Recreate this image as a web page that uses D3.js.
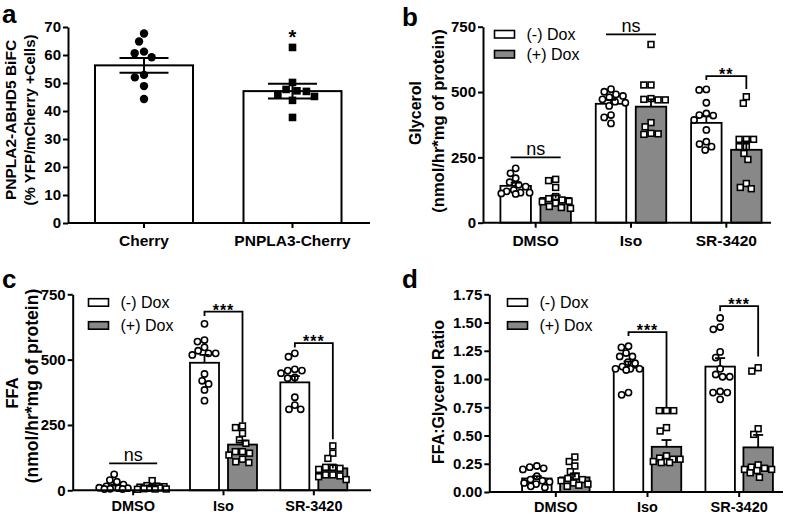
<!DOCTYPE html>
<html>
<head>
<meta charset="utf-8">
<script src="https://cdn.jsdelivr.net/npm/d3@7"></script>
<style>
  body { margin: 0; background: #fff; }
  svg text { font-family: "Liberation Sans", Arial, Helvetica, sans-serif; fill: #000; }
</style>
</head>
<body>
<div id="chart"></div>
<script>
// ---- panel a data: BiFC %
var aCats = ["Cherry", "PNPLA3-Cherry"];
var aMean = [56.3, 47.1];
var aSem = [2.6, 2.6];
var aPts = [
  [67.7, 64.8, 61.2, 60.6, 59.2, 52.9, 52.0, 48.9, 44.3],
  [62.7, 50.2, 47.0, 46.0, 45.2, 47.2, 43.8, 47.7, 37.7]
];
var aTicks = [0, 10, 20, 30, 40, 50, 60, 70];
var aStar = 64; // "*" over PNPLA3-Cherry

// ---- shared groups for b, c, d
var groups = ["DMSO", "Iso", "SR-3420"];
var series = ["(-) Dox", "(+) Dox"];

// ---- panel b: glycerol
var glyMinusMean = [141, 455, 382];
var glyMinusSem = [12, 15, 25];
var glyPlusMean = [95, 444, 279];
var glyPlusSem = [10, 28, 32];
var glyMinusPts = [
  [208, 189, 170, 155, 145, 138, 125, 120, 115, 112, 115, 110],
  [501, 491, 511, 485, 472, 459, 447, 463, 412, 403, 380, 480],
  [510, 508, 459, 418, 412, 410, 393, 355, 310, 301, 291, 278]
];
var glyPlusPts = [
  [166, 161, 135, 100, 92, 87, 82, 80, 75, 62, 58, 55],
  [682, 527, 527, 475, 472, 470, 470, 383, 367, 342, 340, 338],
  [482, 457, 319, 319, 319, 291, 291, 265, 242, 150, 135, 130]
];
var glyTicks = [0, 250, 500, 750];
var glyNotes = [
  {group: 0, kind: "ns", at: 250},
  {group: 1, kind: "ns", at: 721},
  {group: 2, kind: "bracket", top: 561, left: 546, right: 512, label: "**"}
];

// ---- panel c: FFA
var ffaMinusMean = [15, 488, 413];
var ffaMinusSem = [5, 30, 24];
var ffaPlusMean = [12, 175, 84];
var ffaPlusSem = [3, 15, 12];
var ffaMinusPts = [
  [61, 39, 33, 22, 15, 12, 10, 8, 8, 6, 5, 5],
  [637, 569, 575, 547, 534, 518, 524, 524, 445, 419, 407, 384, 343],
  [524, 511, 463, 458, 458, 448, 432, 429, 356, 326, 310, 310]
];
var ffaPlusPts = [
  [37, 18, 16, 14, 12, 10, 9, 8, 6, 5, 5, 4],
  [246, 240, 218, 193, 180, 148, 142, 148, 135, 119, 109, 106],
  [170, 142, 122, 88, 84, 88, 80, 59, 55, 59, 52, 41]
];
var ffaTicks = [0, 250, 500, 750];
var ffaNotes = [
  {group: 0, kind: "ns", at: 103},
  {group: 1, kind: "bracket", top: 684, left: 667, right: 259, label: "***"},
  {group: 2, kind: "bracket", top: 563, left: 546, right: 195, label: "***"}
];

// ---- panel d: FFA:glycerol ratio
var ratMinusMean = [0.12, 1.10, 1.11];
var ratMinusSem = [0.02, 0.055, 0.075];
var ratPlusMean = [0.13, 0.40, 0.395];
var ratPlusSem = [0.035, 0.06, 0.11];
var ratMinusPts = [
  [0.23, 0.21, 0.20, 0.22, 0.14, 0.11, 0.10, 0.09, 0.08, 0.07, 0.05, 0.04],
  [1.29, 1.28, 1.23, 1.20, 1.20, 1.15, 1.14, 1.09, 1.09, 1.09, 1.11, 1.08, 0.88, 0.86],
  [1.54, 1.44, 1.46, 1.24, 1.19, 1.09, 1.02, 1.02, 1.04, 0.89, 0.88, 0.88, 0.82]
];
var ratPlusPts = [
  [0.31, 0.27, 0.23, 0.18, 0.14, 0.12, 0.11, 0.10, 0.08, 0.07, 0.06, 0.05],
  [0.72, 0.72, 0.72, 0.57, 0.54, 0.29, 0.30, 0.32, 0.29, 0.27, 0.27, 0.26, 0.26],
  [1.10, 1.07, 0.56, 0.51, 0.24, 0.21, 0.22, 0.20, 0.19, 0.20, 0.17, 0.13]
];
var ratTicks = [0, 0.25, 0.5, 0.75, 1.0, 1.25, 1.5, 1.75];
var ratNotes = [
  {group: 1, kind: "bracket", top: 1.416, left: 1.38, right: 0.746, label: "***"},
  {group: 2, kind: "bracket", top: 1.646, left: 1.60, right: 1.20, label: "***"}
];

var GRAY = "#888888";

var svg = d3.select("#chart").append("svg")
  .attr("width", 800)
  .attr("height", 516);
svg.append("rect").attr("width", 800).attr("height", 516).attr("fill", "#fff");

// simple beeswarm: place points (highest first) near the centre,
// letting them overlap when the spread would get wider than maxHalf
function swarm(values, y, cx, d, maxHalf) {
  var order = d3.range(values.length).sort(function(i, j) { return d3.descending(values[i], values[j]); });
  var placed = [];
  var xs = new Array(values.length);
  order.forEach(function(i) {
    var py = y(values[i]);
    var px = null;
    [1, 0.8, 0.6, 0.45, 0.3, 0].some(function(f) {
      var dd = d * f;
      var blocks = [];
      placed.forEach(function(p) {
        var dy = Math.abs(p.y - py);
        if (dy < dd) {
          var dx = Math.sqrt(dd * dd - dy * dy);
          blocks.push([p.x - dx, p.x + dx]);
        }
      });
      var cands = [cx];
      blocks.forEach(function(b) { cands.push(b[0], b[1]); });
      cands.sort(function(a, b) { return Math.abs(a - cx) - Math.abs(b - cx); });
      var c = cands.find(function(c) {
        return Math.abs(c - cx) <= maxHalf &&
          blocks.every(function(b) { return c <= b[0] + 1e-6 || c >= b[1] - 1e-6; });
      });
      if (c !== undefined) { px = c; return true; }
      return false;
    });
    if (px === null) px = cx;
    xs[i] = px;
    placed.push({x: px, y: py});
  });
  return xs;
}

function yAxis(g, y, ticks, fmt, x) {
  var ax = g.append("g")
    .attr("transform", "translate(" + x + ",0)")
    .call(d3.axisLeft(y).tickValues(ticks).tickFormat(fmt).tickSize(5).tickPadding(2).tickSizeOuter(0));
  ax.select(".domain").attr("stroke-width", 2);
  ax.selectAll(".tick line").attr("stroke-width", 2);
  ax.selectAll(".tick text")
    .style("font-size", "15px").style("font-weight", "bold");
  return ax;
}

function xAxis(g, x, y0, x0, x1, size, pad) {
  var ax = g.append("g")
    .attr("transform", "translate(0," + y0 + ")")
    .call(d3.axisBottom(x).tickSize(5).tickPadding(pad).tickSizeOuter(0));
  ax.select(".domain").attr("d", "M" + x0 + ",0H" + x1).attr("stroke-width", 2);
  ax.selectAll(".tick line").attr("stroke-width", 2);
  ax.selectAll(".tick text")
    .style("font-size", size + "px").style("font-weight", "bold");
  return ax;
}

function yTitle(g, lines) {
  lines.forEach(function(l) {
    g.append("text")
      .attr("transform", "translate(" + l.x + "," + l.y + ") rotate(-90)")
      .attr("text-anchor", "middle")
      .attr("dy", "0.35em")
      .style("font-size", l.size + "px")
      .style("font-weight", "bold")
      .text(l.text);
  });
}

function panelLetter(txt, x, y) {
  svg.append("text").attr("x", x).attr("y", y)
    .style("font-size", "26px").style("font-weight", "bold")
    .text(txt);
}

// ---------------- panel a ----------------
(function() {
  var g = svg.append("g");
  var y = d3.scaleLinear().domain([0, 70]).range([223, 27]);
  var x = d3.scaleBand().domain(aCats).range([69.75, 366.75]).paddingInner(0.34).paddingOuter(0.17);

  g.selectAll(".bar").data(aCats).enter().append("rect")
    .attr("x", function(d) { return x(d); })
    .attr("width", x.bandwidth())
    .attr("y", function(d, i) { return y(aMean[i]); })
    .attr("height", function(d, i) { return y(0) - y(aMean[i]); })
    .attr("fill", "#fff").attr("stroke", "#000").attr("stroke-width", 2);

  aCats.forEach(function(c, i) {
    var cx = x(c) + x.bandwidth() / 2;
    var xs = swarm(aPts[i], y, cx, 9.5, 45);
    aPts[i].forEach(function(v, k) {
      if (i === 0) {
        g.append("circle").attr("cx", xs[k]).attr("cy", y(v)).attr("r", 4.2).attr("fill", "#000");
      } else {
        g.append("rect").attr("x", xs[k] - 3.8).attr("y", y(v) - 3.8)
          .attr("width", 7.6).attr("height", 7.6).attr("fill", "#000");
      }
    });
    // mean +/- SEM
    var lo = y(aMean[i] - aSem[i]), hi = y(aMean[i] + aSem[i]);
    g.append("line").attr("x1", cx).attr("x2", cx).attr("y1", lo).attr("y2", hi)
      .attr("stroke", "#000").attr("stroke-width", 2);
    [lo, hi].forEach(function(yy) {
      g.append("line").attr("x1", cx - 24.5).attr("x2", cx + 24.5).attr("y1", yy).attr("y2", yy)
        .attr("stroke", "#000").attr("stroke-width", 2);
    });
  });

  g.append("text")
    .attr("x", x(aCats[1]) + x.bandwidth() / 2)
    .attr("y", y(aStar))
    .attr("text-anchor", "middle")
    .style("font-size", "20px").style("font-weight", "bold")
    .text("*");

  yAxis(g, y, aTicks, d3.format("d"), 68);
  xAxis(g, x, 223, 68, 370, 15.5, 7);
  yTitle(g, [
    {text: "PNPLA2-ABHD5 BiFC", x: 11, y: 120, size: 15.5},
    {text: "(% YFP/mCherry +Cells)", x: 29.5, y: 120, size: 15}
  ]);
  panelLetter("a", 2, 23);
})();

// ---------------- panels b, c, d ----------------
function groupedPanel(p) {
  var g = svg.append("g");
  var y = d3.scaleLinear().domain(p.domain).range([p.y0, p.y1]);
  var x = d3.scaleBand().domain(groups).range(p.groupRange);
  var pair = 2 * p.barW + p.gap;
  var sub = d3.scaleBand().domain(series).range([0, pair]).paddingInner(p.gap / (p.barW + p.gap));
  var off = (x.bandwidth() - pair) / 2;
  var bx = function(gi, si) { return x(groups[gi]) + off + sub(series[si]); };
  var bc = function(gi, si) { return bx(gi, si) + sub.bandwidth() / 2; };

  var rows = [];
  groups.forEach(function(grp, gi) {
    series.forEach(function(s, si) {
      rows.push({gi: gi, si: si, mean: p.means[si][gi], sem: p.sems[si][gi], pts: p.pts[si][gi]});
    });
  });

  g.selectAll(".bar").data(rows).enter().append("rect")
    .attr("x", function(d) { return bx(d.gi, d.si); })
    .attr("width", sub.bandwidth())
    .attr("y", function(d) { return y(d.mean); })
    .attr("height", function(d) { return y(0) - y(d.mean); })
    .attr("fill", function(d) { return d.si === 0 ? "#fff" : GRAY; })
    .attr("stroke", "#000").attr("stroke-width", 1.8);

  rows.forEach(function(d) {
    var cx = bc(d.gi, d.si);
    var xs = swarm(d.pts, y, cx, 7.2, 15);
    d.pts.forEach(function(v, k) {
      if (d.si === 0) {
        g.append("circle").attr("cx", xs[k]).attr("cy", y(v)).attr("r", 3.1)
          .attr("fill", "#fff").attr("stroke", "#000").attr("stroke-width", 1.6);
      } else {
        g.append("rect").attr("x", xs[k] - 2.9).attr("y", y(v) - 2.9)
          .attr("width", 5.8).attr("height", 5.8)
          .attr("fill", "#fff").attr("stroke", "#000").attr("stroke-width", 1.6);
      }
    });
    var top = y(d.mean + d.sem);
    g.append("line").attr("x1", cx).attr("x2", cx).attr("y1", y(d.mean)).attr("y2", top)
      .attr("stroke", "#000").attr("stroke-width", 1.8);
    g.append("line").attr("x1", cx - 5).attr("x2", cx + 5).attr("y1", top).attr("y2", top)
      .attr("stroke", "#000").attr("stroke-width", 1.8);
  });

  p.notes.forEach(function(n) {
    var c0 = bc(n.group, 0), c1 = bc(n.group, 1);
    if (n.kind === "ns") {
      var yy = y(n.at);
      g.append("line").attr("x1", c0 - 5).attr("x2", c1 + 5).attr("y1", yy).attr("y2", yy)
        .attr("stroke", "#000").attr("stroke-width", 1.8);
      g.append("text").attr("x", (c0 + c1) / 2).attr("y", yy - 2.5)
        .attr("text-anchor", "middle").style("font-size", "18px")
        .text("ns");
    } else {
      g.append("path")
        .attr("d", "M" + c0 + "," + y(n.left) + "V" + y(n.top) + "H" + c1 + "V" + y(n.right))
        .attr("fill", "none").attr("stroke", "#000").attr("stroke-width", 1.8);
      g.append("text").attr("x", (c0 + c1) / 2).attr("y", y(n.top) + 4)
        .attr("text-anchor", "middle")
        .style("font-size", "16px").style("font-weight", "bold").style("letter-spacing", "1px")
        .text(n.label);
    }
  });

  yAxis(g, y, p.ticks, p.fmt, p.axisX);
  xAxis(g, x, p.y0, p.axisX, p.xEnd, p.catSize, p.catPad);
  yTitle(g, p.title);

  // legend
  series.forEach(function(s, si) {
    var ly = p.legend.y + si * p.legend.dy;
    g.append("rect").attr("x", p.legend.x).attr("y", ly).attr("width", 20).attr("height", 7.5)
      .attr("fill", si === 0 ? "#fff" : GRAY).attr("stroke", "#000").attr("stroke-width", 1.6);
    g.append("text").attr("x", p.legend.x + 32).attr("y", ly + 3.75).attr("dy", "0.35em")
      .style("font-size", "16px").text(s);
  });
}

groupedPanel({
  domain: [0, 750], ticks: glyTicks, fmt: d3.format("d"),
  y0: 222.7, y1: 26.7, axisX: 483, xEnd: 771, groupRange: [488, 774],
  barW: 30.5, gap: 9.5, catSize: 15.5, catPad: 7,
  means: [glyMinusMean, glyPlusMean], sems: [glyMinusSem, glyPlusSem], pts: [glyMinusPts, glyPlusPts],
  notes: glyNotes,
  title: [
    {text: "Glycerol", x: 415, y: 113, size: 16},
    {text: "(nmol/hr*mg of protein)", x: 438, y: 121, size: 16.5}
  ],
  legend: {x: 494.5, y: 30.5, dy: 20}
});
panelLetter("b", 402, 26);

groupedPanel({
  domain: [0, 750], ticks: ffaTicks, fmt: d3.format("d"),
  y0: 490.3, y1: 294.3, axisX: 72.7, xEnd: 371, groupRange: [88, 359],
  barW: 29, gap: 9, catSize: 14.5, catPad: 5.5,
  means: [ffaMinusMean, ffaPlusMean], sems: [ffaMinusSem, ffaPlusSem], pts: [ffaMinusPts, ffaPlusPts],
  notes: ffaNotes,
  title: [
    {text: "FFA", x: 12, y: 393, size: 16.5},
    {text: "(nmol/hr*mg of protein)", x: 32, y: 386, size: 17.5}
  ],
  legend: {x: 88.5, y: 298.7, dy: 23}
});
panelLetter("c", 2, 288);

groupedPanel({
  domain: [0, 1.75], ticks: ratTicks, fmt: d3.format(".2f"),
  y0: 492, y1: 294.3, axisX: 489.3, xEnd: 783, groupRange: [510, 785],
  barW: 29.5, gap: 8.5, catSize: 14.5, catPad: 4.5,
  means: [ratMinusMean, ratPlusMean], sems: [ratMinusSem, ratPlusSem], pts: [ratMinusPts, ratPlusPts],
  notes: ratNotes,
  title: [
    {text: "FFA:Glycerol Ratio", x: 438, y: 392, size: 16}
  ],
  legend: {x: 507.5, y: 298.7, dy: 23}
});
panelLetter("d", 402, 288);
</script>
</body>
</html>
